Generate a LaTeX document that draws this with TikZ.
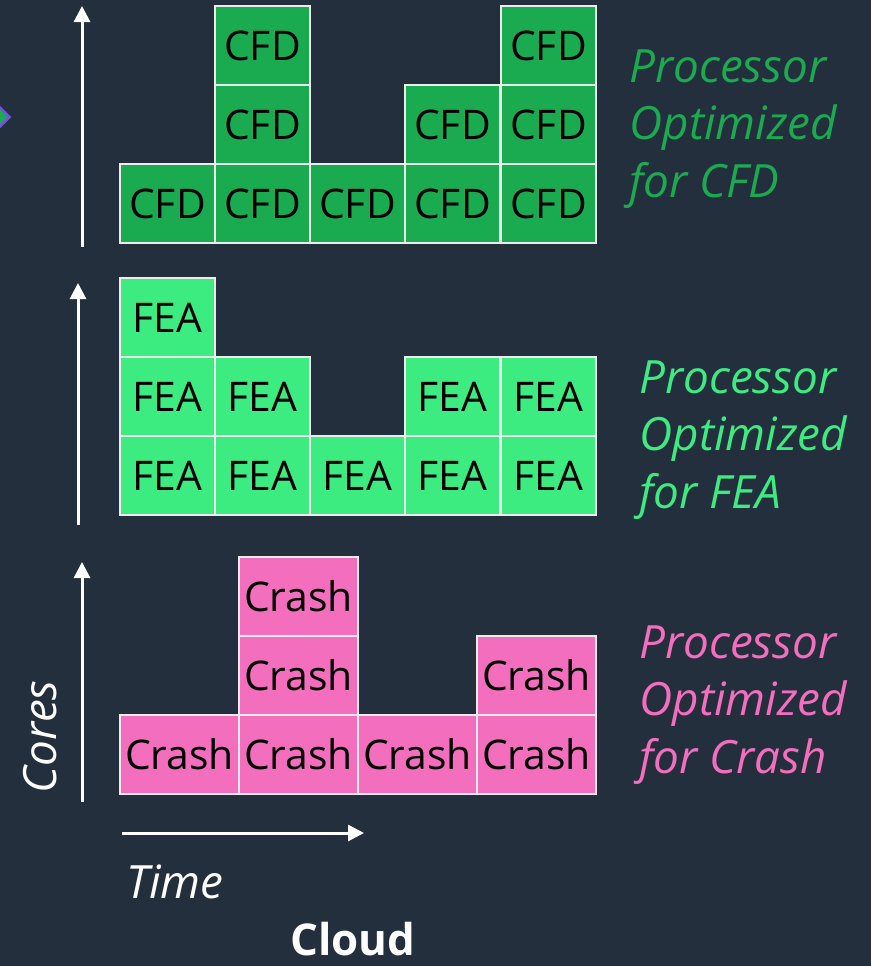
\documentclass[tikz,border=0pt]{standalone}
\usepackage{fontspec}
\setmainfont{Open Sans}
\usepackage{xcolor}
\usetikzlibrary{arrows.meta,shapes.geometric}

\definecolor{slate}{RGB}{36,47,62}
\definecolor{cfdgreen}{RGB}{26,171,80}
\definecolor{feagreen}{RGB}{60,236,128}
\definecolor{crashpink}{RGB}{244,110,190}
\definecolor{boxline}{RGB}{235,235,235}
\definecolor{edgepurple}{RGB}{120,80,230}

\tikzset{
  cell/.style={draw=boxline, line width=2.5bp, inner sep=0pt, text=black,
    font=\fontsize{41}{48}\selectfont},
  cfdcell/.style={cell, fill=cfdgreen, minimum width=95bp, minimum height=79bp},
  feacell/.style={cell, fill=feagreen, minimum width=95bp, minimum height=79bp},
  crashcell/.style={cell, fill=crashpink, minimum width=119bp, minimum height=79bp},
  axis/.style={draw=white, line width=3bp, -{Triangle[width=16bp,length=16bp]}},
  sidenote/.style={anchor=west, align=left, font=\fontsize{46}{58}\selectfont\itshape}
}

\begin{document}
\begin{tikzpicture}[x=1bp,y=-1bp]
		\clip (0,0) rectangle (871,966);
		\fill[slate] (0,0) rectangle (871,966);
		% cut-off marker at the left edge
		\node[diamond, draw=edgepurple, fill=cfdgreen, line width=2.5bp, minimum size=24bp, inner sep=0pt] (mark) at (-2,117) {};
		% CFD
		\coordinate (cfdfoot) at (82,247);
		\coordinate (cfdhead) at (82,6);
		\draw[axis] (cfdfoot) -- (cfdhead);
		\node[cfdcell] (cfd11) at (167.5,203.5) {CFD};
		\node[cfdcell] (cfd21) at (262.5,203.5) {CFD};
		\node[cfdcell] (cfd22) at (262.5,124.5) {CFD};
		\node[cfdcell] (cfd23) at (262.5,45.5) {CFD};
		\node[cfdcell] (cfd31) at (357.5,203.5) {CFD};
		\node[cfdcell] (cfd41) at (452.5,203.5) {CFD};
		\node[cfdcell] (cfd42) at (452.5,124.5) {CFD};
		\node[cfdcell] (cfd51) at (548.5,203.5) {CFD};
		\node[cfdcell] (cfd52) at (548.5,124.5) {CFD};
		\node[cfdcell] (cfd53) at (548.5,45.5) {CFD};
		\node[sidenote, text=cfdgreen] (cfdnote) at (626,129) {Processor\\Optimized\\for CFD};
		% FEA
		\coordinate (feafoot) at (78,525);
		\coordinate (feahead) at (78,283);
		\draw[axis] (feafoot) -- (feahead);
		\node[feacell] (fea11) at (167.5,475.5) {FEA};
		\node[feacell] (fea12) at (167.5,396.5) {FEA};
		\node[feacell] (fea13) at (167.5,317.5) {FEA};
		\node[feacell] (fea21) at (262.5,475.5) {FEA};
		\node[feacell] (fea22) at (262.5,396.5) {FEA};
		\node[feacell] (fea31) at (357.5,475.5) {FEA};
		\node[feacell] (fea41) at (452.5,475.5) {FEA};
		\node[feacell] (fea42) at (452.5,396.5) {FEA};
		\node[feacell] (fea51) at (548.5,475.5) {FEA};
		\node[feacell] (fea52) at (548.5,396.5) {FEA};
		\node[sidenote, text=feagreen] (feanote) at (636,440) {Processor\\Optimized\\for FEA};
		% Crash
		\coordinate (crashfoot) at (82,802);
		\coordinate (crashhead) at (82,562);
		\draw[axis] (crashfoot) -- (crashhead);
		\node[crashcell] (crash11) at (179.5,754.5) {Crash};
		\node[crashcell] (crash21) at (298.5,754.5) {Crash};
		\node[crashcell] (crash22) at (298.5,675.5) {Crash};
		\node[crashcell] (crash23) at (298.5,596.5) {Crash};
		\node[crashcell] (crash31) at (417.5,754.5) {Crash};
		\node[crashcell] (crash41) at (536.5,754.5) {Crash};
		\node[crashcell] (crash42) at (536.5,675.5) {Crash};
		\node[sidenote, text=crashpink] (crashnote) at (636,705) {Processor\\Optimized\\for Crash};
		% axis labels
		\node[rotate=90, text=white, font=\fontsize{46}{52}\selectfont\itshape] (cores) at (40,737) {Cores};
		\coordinate (timestart) at (122,833);
		\coordinate (timeend) at (364,833);
		\draw[axis] (timestart) -- (timeend);
		\node[text=white, font=\fontsize{46}{52}\selectfont\itshape] (time) at (175,882) {Time};
		\node[text=white, font=\fontsize{44}{52}\selectfont\bfseries] (cloud) at (353,939) {Cloud};
	\end{tikzpicture}
\end{document}
